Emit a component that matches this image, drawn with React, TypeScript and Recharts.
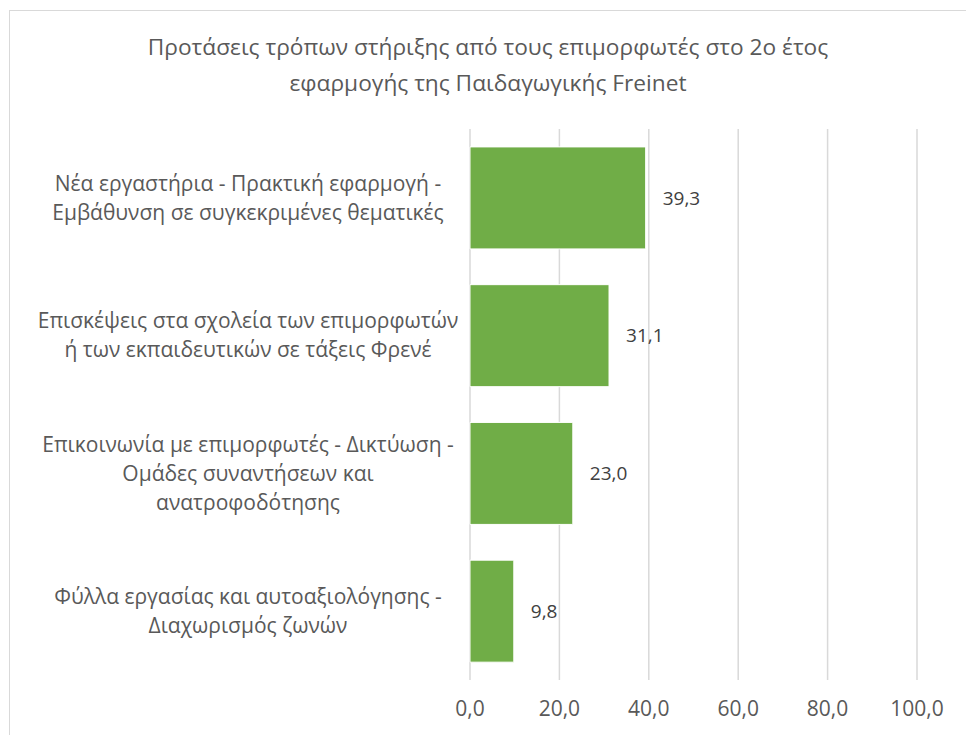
import React from 'react';
import { BarChart, Bar, XAxis, YAxis, CartesianGrid, LabelList } from 'recharts';

const categories = [
  ['Νέα εργαστήρια - Πρακτική εφαρμογή -', 'Εμβάθυνση σε συγκεκριμένες θεματικές'],
  ['Επισκέψεις στα σχολεία των επιμορφωτών', 'ή των εκπαιδευτικών σε τάξεις Φρενέ'],
  ['Επικοινωνία με επιμορφωτές - Δικτύωση -', 'Ομάδες συναντήσεων και', 'ανατροφοδότησης'],
  ['Φύλλα εργασίας και αυτοαξιολόγησης -', 'Διαχωρισμός ζωνών'],
];
const values = [39.3, 31.1, 23.0, 9.8];
const xTicks = [0, 20, 40, 60, 80, 100];

const titleLines = [
  'Προτάσεις τρόπων στήριξης από τους επιμορφωτές στο 2ο έτος',
  'εφαρμογής της Παιδαγωγικής Freinet',
];

const data = categories.map((lines, i) => ({ name: String(i), value: values[i] }));

const FONT = '"Open Sans", sans-serif';
const TEXT = '#595959';

const fmt = (v: number) => v.toFixed(1).replace('.', ',');

const CategoryTick = (props: any) => {
  const { y, payload } = props;
  const lines = categories[Number(payload.value)];
  const lh = 29;
  const start = y - ((lines.length - 1) * lh) / 2;
  return (
    <text x={248} y={start} textAnchor="middle" fill={TEXT} fontSize={21} fontFamily={FONT}>
      {lines.map((l, i) => (
        <tspan key={i} x={248} dy={i === 0 ? '0.35em' : lh}>
          {l}
        </tspan>
      ))}
    </text>
  );
};

export default function App() {
  return (
    <div style={{ position: 'absolute', left: 0, top: 0, width: 966, height: 735, overflow: 'hidden', background: '#fff' }}>
      <div style={{ position: 'absolute', left: 9, top: 10, width: 1200, height: 1200, border: '1px solid #d9d9d9' }} />
      <div
        style={{
          position: 'absolute',
          left: 0,
          width: 976,
          top: 29,
          textAlign: 'center',
          fontFamily: FONT,
          fontSize: 22.7,
          lineHeight: '36px',
          color: TEXT,
        }}
      >
        {titleLines.map((t, i) => (
          <div key={i}>{t}</div>
        ))}
      </div>
      <div style={{ position: 'absolute', left: 0, top: 0 }}>
        <BarChart
          width={966}
          height={735}
          data={data}
          layout="vertical"
          margin={{ top: 129, right: 49, bottom: 15, left: 0 }}
          barCategoryGap="13%"
        >
          <CartesianGrid horizontal={false} stroke="#d9d9d9" strokeWidth={1.5} />
          <XAxis
            type="number"
            domain={[0, 100]}
            ticks={xTicks}
            axisLine={false}
            tickLine={false}
            tickSize={6}
            tickMargin={15}
            height={40}
            tickFormatter={fmt}
            tick={{ fill: TEXT, fontSize: 21, fontFamily: FONT }}
            interval={0}
          />
          <YAxis
            type="category"
            dataKey="name"
            width={470}
            axisLine={false}
            tickLine={false}
            tick={<CategoryTick />}
            interval={0}
          />
          <Bar dataKey="value" fill="#70AD47" stroke="#ffffff" strokeWidth={1} isAnimationActive={false}>
            <LabelList
              dataKey="value"
              position="right"
              offset={17}
              formatter={(v: any) => fmt(Number(v))}
              fill="#404040"
              fontSize={19}
              fontFamily={FONT}
            />
          </Bar>
        </BarChart>
      </div>
    </div>
  );
}
